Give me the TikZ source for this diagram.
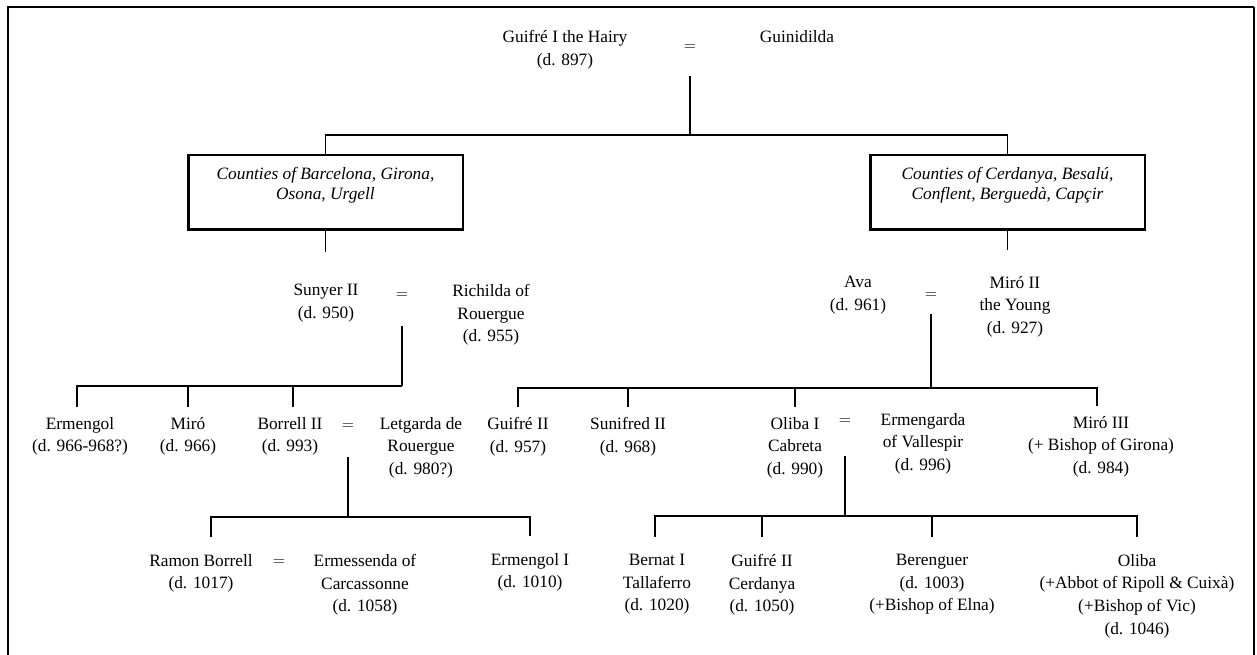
\documentclass[tikz,border=0pt]{standalone}
\usepackage{fontspec}
\setmainfont{Liberation Serif}
\begin{document}
\begin{tikzpicture}[x=0.75pt, y=-0.75pt,
        person/.style={align=center, inner sep=0pt, anchor=north, font=\fontsize{13}{17}\selectfont},
        wed/.style={inner sep=0pt, outer sep=0pt, font=\fontsize{13}{17}\selectfont},
        county/.style={draw, line width=2pt, align=center, minimum width=206pt, minimum height=56pt,
            inner sep=0pt, font=\fontsize{13}{15}\selectfont\itshape},
        link/.style={line width=1.3pt},
        drop/.style={link, shorten >=7.5pt},
        lowdrop/.style={link, shorten >=12.75pt}]

        % Frame
        \useasboundingbox (0,0) rectangle (1257,655);
        \draw[line width=2.2pt] (8,655) -- (8,7) -- (1254,7);
        \draw[line width=0.9pt] (1254,7) -- (1254,655);

        % Guifré I and Guinidilda
        \node[person] (guifre) at (565,30) {Guifré I the Hairy\\(d. 897)};
        \node[wed] (eq1) at (690,48) {$=$};
        \node[person] (guinidilda) at (797,30) {Guinidilda};
        \coordinate (j1) at (690,135);
        \draw[link, shorten <=19pt] (eq1.south) -- (j1);

        % Counties
        \node[county] (bcn) at (325.5,192.5) {Counties of Barcelona, Girona,\\Osona, Urgell\\[-1.5pt]\mbox{}};
        \node[county] (cer) at (1007.5,192.5) {Counties of Cerdanya, Besalú,\\Conflent, Berguedà, Capçir\\[-1.5pt]\mbox{}};
        \draw[link] (bcn.north) |- (j1) -| (cer.north);
        \coordinate (bcnend) at (325.5,252);
        \coordinate (cerend) at (1007.5,250);
        \draw[link] (bcn.south) -- (bcnend);
        \draw[link] (cer.south) -- (cerend);

        % Sunyer II and Richilda
        \node[person] (sunyer) at (326,284) {Sunyer II\\(d. 950)};
        \node[wed] (eq2) at (402,296) {$=$};
        \node[person] (richilda) at (491,284) {Richilda of\\Rouergue\\(d. 955)};
        \coordinate (j2) at (402,386);
        \draw[link, shorten <=20.7pt] (eq2.south) -- (j2);

        \node[person] (ermengol) at (80,417) {Ermengol\\(d. 966-968?)};
        \node[person] (miro) at (188,417) {Miró\\(d. 966)};
        \node[person] (borrell) at (290,417) {Borrell II\\(d. 993)};
        \node[wed] (eq3) at (348,427) {$=$};
        \node[person] (letgarda) at (421,417) {Letgarda de\\Rouergue\\(d. 980?)};
        \draw[drop] (j2) -| ([xshift=-2.25pt]ermengol.north);
        \draw[drop] (j2) -| (miro.north);
        \draw[drop] (j2) -| ([xshift=2.25pt]borrell.north);

        % Borrell II and Letgarda
        \coordinate (j3) at (348,517);
        \draw[link, shorten <=20.7pt] (eq3.south) -- (j3);
        \node[person] (ramon) at (201,554) {Ramon Borrell\\(d. 1017)};
        \node[wed] (eq5) at (279,563) {$=$};
        \node[person] (ermessenda) at (365,554) {Ermessenda of\\Carcassonne\\(d. 1058)};
        \node[person] (ermengol1) at (530,553) {Ermengol I\\(d. 1010)};
        \draw[lowdrop] (j3) -| ([xshift=7.5pt]ramon.north);
        \draw[lowdrop] (j3) -| (ermengol1.north);

        % Ava and Miró II
        \node[person] (ava) at (858,276) {Ava\\(d. 961)};
        \node[wed] (eq4) at (931,296) {$=$};
        \node[person] (miro2) at (1015,276) {Miró II\\the Young\\(d. 927)};
        \coordinate (j4) at (931,388);
        \draw[link, shorten <=11pt] (eq4.south) -- (j4);

        \node[person] (guifre2) at (518,417) {Guifré II\\(d. 957)};
        \node[person] (sunifred) at (628,417) {Sunifred II\\(d. 968)};
        \node[person] (oliba1) at (795,417) {Oliba I\\Cabreta\\(d. 990)};
        \node[wed] (eq6) at (845,422) {$=$};
        \node[person] (ermengarda) at (923,413) {Ermengarda\\of Vallespir\\(d. 996)};
        \node[person] (miro3) at (1101,416) {Miró III\\(+ Bishop of Girona)\\(d. 984)};
        \draw[drop] (j4) -| (guifre2.north);
        \draw[drop] (j4) -| (sunifred.north);
        \draw[drop] (j4) -| (oliba1.north);
        \draw[drop] (j4) -| ([xshift=-3pt]miro3.north);

        % Oliba I and Ermengarda
        \coordinate (j5) at (845,516);
        \draw[link, shorten <=23.7pt] (eq6.south) -- (j5);
        \node[person] (bernat) at (657,554) {Bernat I\\Tallaferro\\(d. 1020)};
        \node[person] (guifre2c) at (762,554) {Guifré II\\Cerdanya\\(d. 1050)};
        \node[person] (berenguer) at (932,554) {Berenguer\\(d. 1003)\\(+Bishop of Elna)};
        \node[person] (oliba) at (1137,554) {Oliba\\(+Abbot of Ripoll \& Cuixà)\\(+Bishop of Vic)\\(d. 1046)};
        \draw[lowdrop] (j5) -| ([xshift=-1.5pt]bernat.north);
        \draw[lowdrop] (j5) -| (guifre2c.north);
        \draw[lowdrop] (j5) -| (berenguer.north);
        \draw[lowdrop] (j5) -| (oliba.north);

    \end{tikzpicture}
\end{document}
